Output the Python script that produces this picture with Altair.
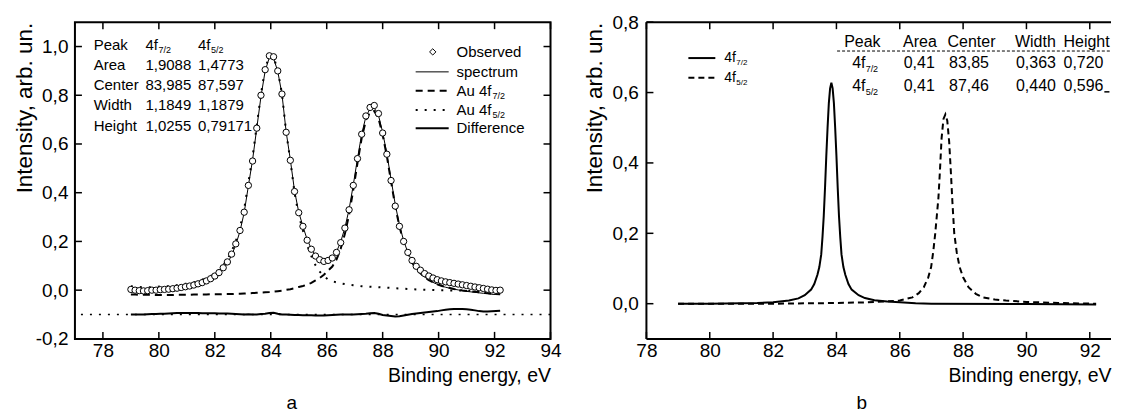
import altair as alt
import pandas as pd

FONT = "Liberation Sans"

# ---------------- panel a : measured spectrum and fit ----------------
energy_a = [
    79.00, 79.15, 79.30, 79.45, 79.60, 79.75, 79.90, 80.05, 80.20, 80.35,
    80.50, 80.65, 80.80, 80.95, 81.10, 81.25, 81.40, 81.55, 81.70, 81.85,
    82.00, 82.15, 82.30, 82.45, 82.60, 82.75, 82.90, 83.05, 83.20, 83.35,
    83.50, 83.65, 83.80, 83.95, 84.10, 84.25, 84.40, 84.55, 84.70, 84.85,
    85.00, 85.15, 85.30, 85.45, 85.60, 85.75, 85.90, 86.05, 86.20, 86.35,
    86.50, 86.65, 86.80, 86.95, 87.10, 87.25, 87.40, 87.55, 87.70, 87.85,
    88.00, 88.15, 88.30, 88.45, 88.60, 88.75, 88.90, 89.05, 89.20, 89.35,
    89.50, 89.65, 89.80, 89.95, 90.10, 90.25, 90.40, 90.55, 90.70, 90.85,
    91.00, 91.15, 91.30, 91.45, 91.60, 91.75, 91.90, 92.05, 92.20,
]
observed = [
    0.003, 0.000, -0.002, -0.003, -0.002, 0.000, 0.000, 0.002, 0.003, 0.004,
    0.006, 0.008, 0.011, 0.014, 0.017, 0.021, 0.026, 0.031, 0.038, 0.047,
    0.058, 0.072, 0.092, 0.116, 0.148, 0.190, 0.245, 0.320, 0.430, 0.530,
    0.665, 0.800, 0.905, 0.962, 0.958, 0.900, 0.805, 0.648, 0.533, 0.405,
    0.318, 0.262, 0.205, 0.168, 0.140, 0.125, 0.118, 0.122, 0.132, 0.155,
    0.195, 0.255, 0.330, 0.430, 0.540, 0.640, 0.715, 0.750, 0.758, 0.725,
    0.645, 0.558, 0.450, 0.345, 0.262, 0.200, 0.155, 0.122, 0.098, 0.082,
    0.068, 0.058, 0.050, 0.043, 0.038, 0.034, 0.031, 0.028, 0.025, 0.022,
    0.019, 0.016, 0.013, 0.010, 0.007, 0.004, 0.001, -0.001, 0.000,
]
spectrum = [
    -0.002, -0.004, -0.006, -0.007, -0.007, -0.007, -0.006, -0.005, -0.004, -0.003,
    -0.001, 0.001, 0.004, 0.007, 0.010, 0.014, 0.019, 0.025, 0.032, 0.041,
    0.052, 0.066, 0.086, 0.110, 0.143, 0.186, 0.242, 0.318, 0.428, 0.535,
    0.665, 0.795, 0.900, 0.955, 0.952, 0.898, 0.805, 0.650, 0.535, 0.408,
    0.320, 0.262, 0.208, 0.170, 0.142, 0.126, 0.120, 0.124, 0.134, 0.158,
    0.198, 0.256, 0.332, 0.432, 0.540, 0.640, 0.712, 0.745, 0.748, 0.718,
    0.648, 0.560, 0.455, 0.352, 0.268, 0.203, 0.155, 0.118, 0.091, 0.071,
    0.054, 0.042, 0.032, 0.024, 0.017, 0.012, 0.008, 0.004, 0.001, -0.002,
    -0.005, -0.007, -0.009, -0.011, -0.013, -0.015, -0.017, -0.018, -0.019,
]
comp_dashed = [
    -0.018, -0.018, -0.019, -0.019, -0.019, -0.019, -0.020, -0.020, -0.020, -0.020,
    -0.020, -0.019, -0.019, -0.019, -0.019, -0.018, -0.018, -0.018, -0.018, -0.017,
    -0.017, -0.017, -0.016, -0.016, -0.016, -0.015, -0.015, -0.014, -0.013, -0.012,
    -0.011, -0.010, -0.009, -0.008, -0.006, -0.004, -0.002, 0.001, 0.004, 0.008,
    0.013, 0.017, 0.023, 0.030, 0.040, 0.050, 0.063, 0.080, 0.097, 0.126,
    0.170, 0.231, 0.310, 0.412, 0.522, 0.624, 0.697, 0.731, 0.735, 0.706,
    0.637, 0.550, 0.446, 0.344, 0.261, 0.197, 0.150, 0.114, 0.088, 0.069,
    0.053, 0.041, 0.032, 0.024, 0.018, 0.013, 0.009, 0.005, 0.002, -0.001,
    -0.003, -0.005, -0.007, -0.009, -0.011, -0.012, -0.014, -0.015, -0.016,
]
comp_dotted = [
    0.016, 0.014, 0.013, 0.012, 0.012, 0.012, 0.014, 0.015, 0.016, 0.017,
    0.019, 0.020, 0.023, 0.026, 0.029, 0.032, 0.037, 0.043, 0.050, 0.058,
    0.069, 0.083, 0.102, 0.126, 0.159, 0.201, 0.257, 0.332, 0.441, 0.547,
    0.676, 0.805, 0.909, 0.963, 0.958, 0.902, 0.807, 0.649, 0.531, 0.400,
    0.307, 0.245, 0.185, 0.140, 0.102, 0.076, 0.057, 0.044, 0.037, 0.032,
    0.028, 0.025, 0.022, 0.020, 0.018, 0.016, 0.015, 0.014, 0.013, 0.012,
    0.011, 0.010, 0.009, 0.008, 0.007, 0.006, 0.005, 0.004, 0.003, 0.002,
    0.002, 0.001, 0.001, 0.000, 0.000, 0.000, -0.001, -0.001, -0.001, -0.002,
    -0.002, -0.002, -0.003, -0.003, -0.003, -0.003, -0.004, -0.004, -0.004,
]
difference = [
    -0.100, -0.100, -0.100, -0.100, -0.099, -0.098, -0.098, -0.097, -0.097, -0.096,
    -0.095, -0.094, -0.094, -0.094, -0.094, -0.094, -0.094, -0.095, -0.095, -0.095,
    -0.095, -0.096, -0.096, -0.096, -0.097, -0.098, -0.099, -0.100, -0.099, -0.100,
    -0.100, -0.098, -0.097, -0.094, -0.093, -0.097, -0.100, -0.100, -0.101, -0.102,
    -0.102, -0.103, -0.103, -0.103, -0.104, -0.104, -0.104, -0.103, -0.102, -0.101,
    -0.100, -0.100, -0.100, -0.100, -0.099, -0.098, -0.097, -0.095, -0.094, -0.097,
    -0.102, -0.104, -0.106, -0.108, -0.107, -0.104, -0.101, -0.098, -0.096, -0.094,
    -0.092, -0.090, -0.088, -0.086, -0.083, -0.080, -0.078, -0.077, -0.077, -0.077,
    -0.078, -0.080, -0.083, -0.086, -0.088, -0.088, -0.087, -0.086, -0.085,
]
difference_zero = [-0.1]

# ---------------- panel b : separated components ----------------
energy_b_72 = [79.0, 80.0, 81.0, 81.5, 82.0, 82.5, 82.8, 83.0, 83.2, 83.3, 83.4,
               83.46, 83.52, 83.56, 83.60, 83.64, 83.68, 83.72, 83.76, 83.80, 83.84,
               83.88, 83.92, 83.96, 84.00, 84.04, 84.08, 84.12, 84.16, 84.22, 84.28,
               84.38, 84.48, 84.7, 84.9, 85.2, 85.6, 86.0, 86.5, 87.0, 90.0, 92.2]
intensity_b_72 = [0.000, 0.000, 0.001, 0.002, 0.004, 0.009, 0.015, 0.024, 0.040, 0.056, 0.082,
                  0.104, 0.140, 0.190, 0.250, 0.330, 0.420, 0.500, 0.570, 0.612, 0.628,
                  0.612, 0.570, 0.500, 0.420, 0.330, 0.250, 0.190, 0.140, 0.104, 0.082,
                  0.056, 0.040, 0.024, 0.016, 0.010, 0.006, 0.004, 0.001, 0.000, -0.001, -0.002]
energy_b_52 = [79.0, 82.0, 83.0, 84.0, 85.0, 85.5, 86.0, 86.4, 86.6, 86.76, 86.9,
               86.99, 87.06, 87.12, 87.17, 87.22, 87.27, 87.32, 87.38, 87.44, 87.50,
               87.56, 87.61, 87.66, 87.72, 87.80, 87.89, 88.0, 88.17, 88.4, 88.62,
               89.0, 89.35, 90.0, 91.0, 92.2]
intensity_b_52 = [0.000, 0.000, 0.001, 0.002, 0.004, 0.006, 0.009, 0.018, 0.030, 0.047, 0.075,
                  0.104, 0.150, 0.200, 0.250, 0.300, 0.380, 0.470, 0.525, 0.538, 0.520,
                  0.460, 0.380, 0.292, 0.200, 0.145, 0.104, 0.075, 0.047, 0.028, 0.018,
                  0.012, 0.009, 0.005, 0.002, 0.000]

# ---------------- axes ticks ----------------
ticks_x_a = [78, 80, 82, 84, 86, 88, 90, 92, 94]
ticks_y_a = [-0.2, 0.0, 0.2, 0.4, 0.6, 0.8, 1.0]
ticks_x_b = [78, 80, 82, 84, 86, 88, 90, 92]
ticks_y_b = [0.0, 0.2, 0.4, 0.6, 0.8]

# ---------------- texts ----------------
table_a_rows = ["Peak", "Area", "Center", "Width", "Height"]
table_a_col1 = ["4f", "1,9088", "83,985", "1,1849", "1,0255"]
table_a_col2 = ["4f", "1,4773", "87,597", "1,1879", "0,79171"]
table_a_subs = ["7/2", "5/2"]
legend_a_labels = ["Observed", "spectrum", "Au 4f", "Au 4f", "Difference"]
legend_a_subs = ["7/2", "5/2"]

legend_b_labels = ["4f", "4f"]
legend_b_subs = ["7/2", "5/2"]
table_b_header = ["Peak", "Area", "Center", "Width", "Height"]
table_b_row1 = ["4f", "0,41", "83,85", "0,363", "0,720"]
table_b_row2 = ["4f", "0,41", "87,46", "0,440", "0,596"]

# ---------------- layout of annotations (data units) ----------------
A_ROWS_Y = [1.008, 0.925, 0.842, 0.758, 0.675]
A_COLS_X = [77.67, 79.52, 81.40]
A_LEG_Y = [0.978, 0.896, 0.818, 0.740, 0.665]
A_LEG_X0, A_LEG_X1, A_LEG_TX, A_LEG_SYM = 89.18, 90.36, 90.64, 89.79
B_LEG_Y = [0.698, 0.642]
B_LEG_X0, B_LEG_X1, B_LEG_TX = 79.325, 80.176, 80.46
B_HEAD_Y, B_RULE_Y, B_ROW_Y = 0.745, 0.718, [0.683, 0.620]
B_HEAD_X = [84.244, 86.105, 87.508, 89.637, 91.17]
B_ROW_X = [84.496, 86.124, 87.555, 89.668, 91.17]
B_DOMAIN = [78, 92.67]
B_RULE_X = [84.02, 92.67]
B_MARK_X, B_MARK_Y = [92.46, 92.62], 0.602

WA, HA = 476, 317
WB, HB = 465, 317
TICK = 7

ylab = "replace(replace(format(datum.value, '.1f'), '.', ','), '\u2212', '-')"


def x_axis(values):
    return alt.Axis(values=values, format="d", title="Binding energy, eV",
                    titleAnchor="end", labelFlush=False, ticks=False, domain=False,
                    grid=False, labelPadding=3, titlePadding=6, titleFontSize=19.5)


def y_axis(values, tx, lp):
    return alt.Axis(values=values, labelExpr=ylab, title="Intensity, arb. un.",
                    titleX=tx, titleY=0, titleAlign="right", titleAngle=270,
                    titleBaseline="middle", ticks=False, domain=False, grid=False,
                    labelPadding=lp, titleFontSize=22.5)


# ================= panel a =================
XA = alt.X("E:Q", scale=alt.Scale(domain=[77, 94], nice=False, zero=False), axis=x_axis(ticks_x_a))
YA = alt.Y("I:Q", scale=alt.Scale(domain=[-0.2, 1.1], nice=False, zero=False), axis=y_axis(ticks_y_a, -50, 7))

df_a = pd.DataFrame({"E": energy_a, "obs": observed, "fit": spectrum,
                     "dash": comp_dashed, "dot": comp_dotted, "diff": difference})


def series_a(col):
    return pd.DataFrame({"E": df_a["E"], "I": df_a[col]})


zero_a = alt.Chart(pd.DataFrame({"I": difference_zero})).mark_rule(
    color="black", strokeWidth=1.6, strokeDash=[2, 7]).encode(y=YA)
l_dash = alt.Chart(series_a("dash")).mark_line(color="black", strokeWidth=2, strokeDash=[7, 5]).encode(x=XA, y=YA)
l_dot = alt.Chart(series_a("dot")).mark_line(color="black", strokeWidth=2, strokeDash=[2, 7]).encode(x=XA, y=YA)
l_fit = alt.Chart(series_a("fit")).mark_line(color="black", strokeWidth=1).encode(x=XA, y=YA)
l_diff = alt.Chart(series_a("diff")).mark_line(color="black", strokeWidth=2).encode(x=XA, y=YA)
p_obs = alt.Chart(series_a("obs")).mark_point(shape="circle", size=40, filled=True, fill="white",
                                               stroke="black", strokeWidth=1, opacity=1).encode(x=XA, y=YA)

# inward ticks a
tb_a = alt.Chart(pd.DataFrame({"E": ticks_x_a})).mark_rule(color="black", strokeWidth=1.5).encode(
    x=XA, y=alt.value(HA), y2=alt.value(HA - TICK))
tt_a = alt.Chart(pd.DataFrame({"E": ticks_x_a})).mark_rule(color="black", strokeWidth=1.5).encode(
    x=XA, y=alt.value(0), y2=alt.value(TICK))
tl_a = alt.Chart(pd.DataFrame({"I": ticks_y_a})).mark_rule(color="black", strokeWidth=1.5).encode(
    y=YA, x=alt.value(0), x2=alt.value(TICK))
tr_a = alt.Chart(pd.DataFrame({"I": ticks_y_a})).mark_rule(color="black", strokeWidth=1.5).encode(
    y=YA, x=alt.value(WA), x2=alt.value(WA - TICK))

# table a
rows = []
for i, lab in enumerate(table_a_rows):
    rows.append({"E": A_COLS_X[0], "I": A_ROWS_Y[i], "t": lab})
    rows.append({"E": A_COLS_X[1], "I": A_ROWS_Y[i], "t": table_a_col1[i]})
    rows.append({"E": A_COLS_X[2], "I": A_ROWS_Y[i], "t": table_a_col2[i]})
txt_a = alt.Chart(pd.DataFrame(rows)).mark_text(align="left", baseline="middle", fontSize=15,
                                                font=FONT, color="black").encode(x=XA, y=YA, text="t:N")
sub_a = alt.Chart(pd.DataFrame({"E": A_COLS_X[1:], "I": [A_ROWS_Y[0]] * 2, "t": table_a_subs})).mark_text(
    align="left", baseline="middle", fontSize=9, font=FONT, dx=13, dy=5, color="black").encode(x=XA, y=YA, text="t:N")

# legend a
leg_txt = alt.Chart(pd.DataFrame({"E": [A_LEG_TX] * 5, "I": A_LEG_Y, "t": legend_a_labels})).mark_text(
    align="left", baseline="middle", fontSize=15, font=FONT, color="black").encode(x=XA, y=YA, text="t:N")
leg_sub = alt.Chart(pd.DataFrame({"E": [A_LEG_TX] * 2, "I": A_LEG_Y[2:4], "t": legend_a_subs})).mark_text(
    align="left", baseline="middle", fontSize=9, font=FONT, dx=36, dy=5, color="black").encode(x=XA, y=YA, text="t:N")
leg_sym = alt.Chart(pd.DataFrame({"E": [A_LEG_SYM], "I": [A_LEG_Y[0]]})).mark_point(
    shape="diamond", size=40, filled=True, fill="white", stroke="black", strokeWidth=1, opacity=1).encode(x=XA, y=YA)


def leg_line(y, width, dash=None):
    kw = dict(color="black", strokeWidth=width)
    if dash:
        kw["strokeDash"] = dash
    return alt.Chart(pd.DataFrame({"E": [A_LEG_X0], "E2": [A_LEG_X1], "I": [y]})).mark_rule(**kw).encode(
        x=XA, x2="E2:Q", y=YA)


leg_l1 = leg_line(A_LEG_Y[1], 1)
leg_l2 = leg_line(A_LEG_Y[2], 2, [7, 5])
leg_l3 = leg_line(A_LEG_Y[3], 2, [2, 7])
leg_l4 = leg_line(A_LEG_Y[4], 2)

panel_a = alt.layer(
    l_fit, zero_a, l_dash, l_dot, l_diff, p_obs,
    tb_a, tt_a, tl_a, tr_a,
    txt_a, sub_a, leg_txt, leg_sub, leg_sym, leg_l1, leg_l2, leg_l3, leg_l4,
).properties(width=WA, height=HA,
             title=alt.TitleParams("a", orient="bottom", anchor="middle", dx=-21, offset=9,
                                   fontSize=19, fontWeight="normal", font=FONT))

# ================= panel b =================
XB = alt.X("E:Q", scale=alt.Scale(domain=B_DOMAIN, nice=False, zero=False), axis=x_axis(ticks_x_b))
YB = alt.Y("I:Q", scale=alt.Scale(domain=[-0.1, 0.8], nice=False, zero=False), axis=y_axis(ticks_y_b, -52, 8))

lb_72 = alt.Chart(pd.DataFrame({"E": energy_b_72, "I": intensity_b_72})).mark_line(
    color="black", strokeWidth=2).encode(x=XB, y=YB)
lb_52 = alt.Chart(pd.DataFrame({"E": energy_b_52, "I": intensity_b_52})).mark_line(
    color="black", strokeWidth=2, strokeDash=[6, 4]).encode(x=XB, y=YB)

tb_b = alt.Chart(pd.DataFrame({"E": ticks_x_b})).mark_rule(color="black", strokeWidth=1.5).encode(
    x=XB, y=alt.value(HB), y2=alt.value(HB - TICK))
tt_b = alt.Chart(pd.DataFrame({"E": ticks_x_b})).mark_rule(color="black", strokeWidth=1.5).encode(
    x=XB, y=alt.value(0), y2=alt.value(TICK))
tl_b = alt.Chart(pd.DataFrame({"I": ticks_y_b})).mark_rule(color="black", strokeWidth=1.5).encode(
    y=YB, x=alt.value(0), x2=alt.value(TICK))

# frame of panel b: left, top and bottom sides (the right side runs off the picture)
frame_df = pd.DataFrame({"k": [0]})
fr_top = alt.Chart(frame_df).mark_rule(color="black", strokeWidth=2).encode(
    x=alt.value(0), x2=alt.value(WB), y=alt.value(0))
fr_bot = alt.Chart(frame_df).mark_rule(color="black", strokeWidth=2).encode(
    x=alt.value(0), x2=alt.value(WB), y=alt.value(HB))
fr_left = alt.Chart(frame_df).mark_rule(color="black", strokeWidth=2).encode(
    x=alt.value(0), y=alt.value(0), y2=alt.value(HB))

legb_txt = alt.Chart(pd.DataFrame({"E": [B_LEG_TX] * 2, "I": B_LEG_Y, "t": legend_b_labels})).mark_text(
    align="left", baseline="middle", fontSize=14, font=FONT, color="black").encode(x=XB, y=YB, text="t:N")
legb_sub = alt.Chart(pd.DataFrame({"E": [B_LEG_TX] * 2, "I": B_LEG_Y, "t": legend_b_subs})).mark_text(
    align="left", baseline="middle", fontSize=8, font=FONT, dx=12, dy=5, color="black").encode(x=XB, y=YB, text="t:N")
legb_l1 = alt.Chart(pd.DataFrame({"E": [B_LEG_X0], "E2": [B_LEG_X1], "I": [B_LEG_Y[0]]})).mark_rule(
    color="black", strokeWidth=2).encode(x=XB, x2="E2:Q", y=YB)
legb_l2 = alt.Chart(pd.DataFrame({"E": [B_LEG_X0], "E2": [B_LEG_X1], "I": [B_LEG_Y[1]]})).mark_rule(
    color="black", strokeWidth=2, strokeDash=[6, 4]).encode(x=XB, x2="E2:Q", y=YB)

rows_b = []
for j in range(5):
    rows_b.append({"E": B_HEAD_X[j], "I": B_HEAD_Y, "t": table_b_header[j]})
    rows_b.append({"E": B_ROW_X[j], "I": B_ROW_Y[0], "t": table_b_row1[j]})
    rows_b.append({"E": B_ROW_X[j], "I": B_ROW_Y[1], "t": table_b_row2[j]})
tab_b = alt.Chart(pd.DataFrame(rows_b)).mark_text(
    align="left", baseline="middle", fontSize=16, font=FONT, color="black").encode(x=XB, y=YB, text="t:N")
tab_b_sub = alt.Chart(pd.DataFrame({"E": [B_ROW_X[0]] * 2, "I": B_ROW_Y, "t": legend_b_subs})).mark_text(
    align="left", baseline="middle", fontSize=9, font=FONT, dx=13.5, dy=6, color="black").encode(x=XB, y=YB, text="t:N")
tab_b_rule = alt.Chart(pd.DataFrame({"E": [B_RULE_X[0]], "E2": [B_RULE_X[1]], "I": [B_RULE_Y]})).mark_rule(
    color="black", strokeWidth=1, strokeDash=[3, 2]).encode(x=XB, x2="E2:Q", y=YB)
tab_b_mark = alt.Chart(pd.DataFrame({"E": [B_MARK_X[0]], "E2": [B_MARK_X[1]], "I": [B_MARK_Y]})).mark_rule(
    color="black", strokeWidth=1.5).encode(x=XB, x2="E2:Q", y=YB)

panel_b = alt.layer(
    lb_52, lb_72, tb_b, tt_b, tl_b, fr_top, fr_bot, fr_left,
    legb_txt, legb_sub, legb_l1, legb_l2, tab_b, tab_b_sub, tab_b_rule, tab_b_mark,
).properties(width=WB, height=HB, view=alt.ViewBackground(stroke="transparent"),
             title=alt.TitleParams("b", orient="bottom", anchor="middle", dx=-17, offset=9,
                                   fontSize=19, fontWeight="normal", font=FONT))

chart = alt.hconcat(panel_a, panel_b, spacing=96, bounds="flush").properties(
    padding={"left": 5, "top": 4, "right": 0, "bottom": 0}
).configure_view(stroke="black", strokeWidth=2).configure_axis(
    labelFont=FONT, titleFont=FONT, labelFontSize=19, titleFontWeight="normal",
    labelColor="black", titleColor="black"
).configure_text(font=FONT)

chart.save("out.html", embed_options={"renderer": "svg", "actions": False})
